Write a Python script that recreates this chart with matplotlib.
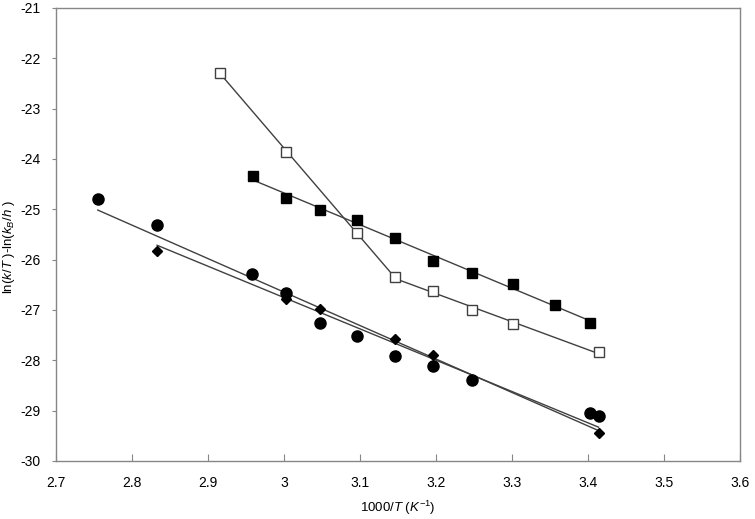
import numpy as np
import matplotlib
matplotlib.use("Agg")
import matplotlib.pyplot as plt

plt.rcParams["font.family"] = "Liberation Sans"
plt.rcParams["mathtext.fontset"] = "custom"
plt.rcParams["mathtext.rm"] = "Liberation Sans"
plt.rcParams["mathtext.it"] = "Liberation Sans:italic"
plt.rcParams["axes.unicode_minus"] = False

# data (x = 1000/T)
x_open = [2.916, 3.003, 3.096, 3.146, 3.196, 3.248, 3.302, 3.414]
y_open = [-22.29, -23.86, -25.47, -26.35, -26.62, -27.00, -27.28, -27.83]

x_filled = [2.959, 3.003, 3.048, 3.096, 3.146, 3.196, 3.248, 3.302, 3.357, 3.403]
y_filled = [-24.34, -24.77, -25.01, -25.22, -25.57, -26.03, -26.27, -26.48, -26.90, -27.25]

x_circle = [2.755, 2.833, 2.958, 3.003, 3.048, 3.096, 3.146, 3.196, 3.248, 3.403, 3.414]
y_circle = [-24.79, -25.31, -26.29, -26.67, -27.25, -27.52, -27.91, -28.12, -28.39, -29.04, -29.11]

x_diamond = [2.833, 3.003, 3.048, 3.146, 3.196, 3.414]
y_diamond = [-25.82, -26.78, -26.99, -27.57, -27.89, -29.45]

line_col = "#404040"


def fit_line(ax, xs, ys):
    xs = np.asarray(xs)
    ys = np.asarray(ys)
    k, b = np.polyfit(xs, ys, 1)
    xx = np.array([xs.min(), xs.max()])
    ax.plot(xx, k * xx + b, color=line_col, lw=1.0, zorder=2)


fig = plt.figure(figsize=(7.55, 5.19), dpi=100)
ax = fig.add_axes([0.0742, 0.1118, 0.9058, 0.8728])

# open squares: two regimes
fit_line(ax, x_open[:4], y_open[:4])
fit_line(ax, x_open[3:], y_open[3:])
fit_line(ax, x_filled, y_filled)
fit_line(ax, x_circle, y_circle)
fit_line(ax, x_diamond, y_diamond)

ax.plot(x_open, y_open, "s", ms=7.5, mfc="white", mec="#404040", mew=1.0, ls="none", zorder=3)
ax.plot(x_filled, y_filled, "s", ms=7.5, color="black", ls="none", zorder=3)
ax.plot(x_circle, y_circle, "o", ms=8, color="black", ls="none", zorder=3)
ax.plot(x_diamond, y_diamond, "D", ms=5.5, color="black", ls="none", zorder=3)

ax.set_xlim(2.7, 3.6)
ax.set_ylim(-30, -21)
ax.set_xticks(np.arange(2.7, 3.61, 0.1))
ax.set_xticklabels(["2.7", "2.8", "2.9", "3", "3.1", "3.2", "3.3", "3.4", "3.5", "3.6"])
ax.set_yticks(np.arange(-30, -20.9, 1))

for s in ax.spines.values():
    s.set_color("#868686")
    s.set_linewidth(1.0)
ax.tick_params(axis="x", direction="in", length=5, color="#868686", labelsize=10, pad=11)
ax.tick_params(axis="y", direction="out", length=3, color="#868686", labelsize=10, pad=8)

ax.set_xlabel(r"1000/$\mathit{T}$ $\mathit{(K}^{-1}\mathit{)}$", fontsize=9.5, labelpad=6)
fig.text(0.012, 1 - 247 / 519,
         r"ln($\mathit{k}$/$\mathit{T}$ )-ln($\mathit{k}_{\mathit{B}}$/$\mathit{h}$ )",
         rotation=90, fontsize=9.5, ha="center", va="center")

fig.savefig("out.png", dpi=100)
